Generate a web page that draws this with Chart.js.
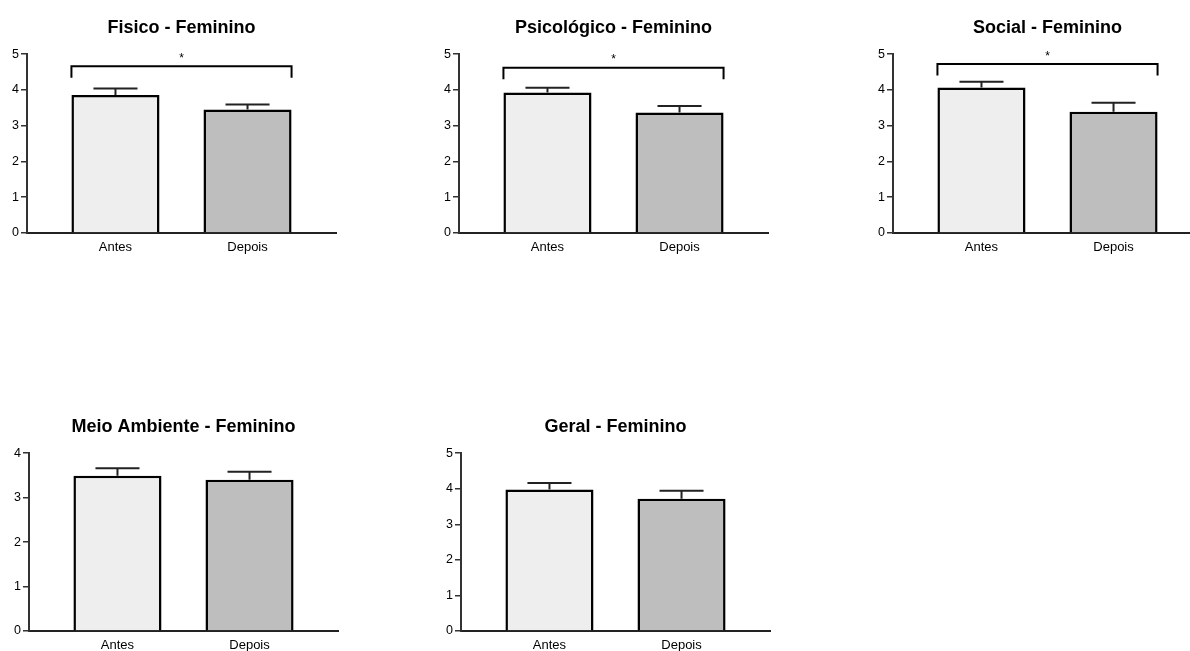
<!DOCTYPE html>
<html>
<head>
<meta charset="utf-8">
<script src="https://cdn.jsdelivr.net/npm/chart.js@4.4.1/dist/chart.umd.min.js"></script>
<style>
  html, body { margin: 0; padding: 0; background: #fff; overflow: hidden; }
  #wrap { position: relative; width: 1190px; height: 651px; }
  #wrap canvas { position: absolute; }
</style>
</head>
<body>
<div id="wrap"></div>
<script>
const groups = ["Antes", "Depois"];
const titles = [
  "Fisico - Feminino",
  "Psicológico - Feminino",
  "Social - Feminino",
  "Meio Ambiente - Feminino",
  "Geral - Feminino",
];
const antesMean = [3.86, 3.93, 4.07, 3.49, 3.98];
const depoisMean = [3.45, 3.37, 3.39, 3.40, 3.72];
const antesSem = [0.18, 0.13, 0.16, 0.17, 0.18];
const depoisSem = [0.14, 0.18, 0.25, 0.18, 0.22];
const yMax = [5, 5, 5, 4, 5];
// significance bracket (value level) and its label, null where no test is marked
const bracketLevel = [4.66, 4.62, 4.72, null, null];
const starLevel = [4.88, 4.84, 4.94, null, null];
const sigLabel = ["*", "*", "*", "", ""];

// where each small chart sits on the page
const panels = [
  { left: 0, top: 0, height: 259 },
  { left: 432, top: 0, height: 259 },
  { left: 866, top: 0, height: 259 },
  { left: 2, top: 399, height: 258 },
  { left: 434, top: 399, height: 258 },
];

const FONT = "'Liberation Sans', Arial, sans-serif";
const AXIS_COLOR = "#333";

const errorBars = {
  id: "errorBars",
  afterDatasetsDraw(chart, args, opts) {
    const ctx = chart.ctx;
    const y = chart.scales.y;
    const bars = chart.getDatasetMeta(0).data;
    ctx.save();
    ctx.strokeStyle = "#222";
    ctx.lineWidth = 2;
    bars.forEach((bar, i) => {
      const top = y.getPixelForValue(opts.means[i] + opts.sems[i]);
      const base = y.getPixelForValue(opts.means[i]);
      const half = bar.width / 4;
      ctx.beginPath();
      ctx.moveTo(bar.x, base);
      ctx.lineTo(bar.x, top);
      ctx.moveTo(bar.x - half, top);
      ctx.lineTo(bar.x + half, top);
      ctx.stroke();
    });
    if (opts.bracket != null) {
      const left = bars[0].x - bars[0].width / 2;
      const right = bars[1].x + bars[1].width / 2;
      const yTop = y.getPixelForValue(opts.bracket);
      const yEnd = y.getPixelForValue(opts.bracket - 0.32);
      ctx.strokeStyle = "#000";
      ctx.lineWidth = 2;
      ctx.beginPath();
      ctx.moveTo(left, yEnd);
      ctx.lineTo(left, yTop);
      ctx.lineTo(right, yTop);
      ctx.lineTo(right, yEnd);
      ctx.stroke();
      ctx.fillStyle = "#000";
      ctx.font = "12px " + FONT;
      ctx.textAlign = "center";
      ctx.textBaseline = "middle";
      ctx.fillText(opts.label, (left + right) / 2, y.getPixelForValue(opts.star));
    }
    ctx.restore();
  },
};

const wrap = document.getElementById("wrap");

titles.forEach((title, k) => {
  const p = panels[k];
  const canvas = document.createElement("canvas");
  canvas.width = 340;
  canvas.height = p.height;
  canvas.style.left = p.left + "px";
  canvas.style.top = p.top + "px";
  wrap.appendChild(canvas);

  const means = [antesMean[k], depoisMean[k]];
  const sems = [antesSem[k], depoisSem[k]];

  new Chart(canvas, {
    type: "bar",
    plugins: [errorBars],
    data: {
      datasets: [
        {
          data: means.map((m, i) => ({ x: i, y: m })),
          backgroundColor: ["#eeeeee", "#bebebe"],
          borderColor: "#000",
          borderWidth: 2.5,
          categoryPercentage: 1,
          barPercentage: 0.667,
        },
      ],
    },
    options: {
      responsive: false,
      animation: false,
      layout: { padding: { left: 0, right: 4, top: 0, bottom: 0 } },
      plugins: {
        legend: { display: false },
        tooltip: { enabled: false },
        title: {
          display: true,
          text: title,
          fullSize: false,
          color: "#000",
          font: { family: FONT, size: 18, weight: "bold" },
          padding: { top: 17, bottom: 15.5 },
        },
        errorBars: {
          means: means,
          sems: sems,
          bracket: bracketLevel[k],
          star: starLevel[k],
          label: sigLabel[k],
        },
      },
      scales: {
        x: {
          type: "linear",
          min: -0.67,
          max: 1.67,
          offset: false,
          afterBuildTicks: (scale) => {
            scale.ticks = groups.map((_, i) => ({ value: i }));
          },
          afterFit: (scale) => {
            scale.height = 26;
          },
          grid: { display: false, drawTicks: false, offset: false },
          border: { display: true, color: "#222", width: 2 },
          ticks: {
            autoSkip: false,
            padding: 7,
            color: "#000",
            font: { family: FONT, size: 13 },
            callback: (v) => groups[v],
          },
        },
        y: {
          min: 0,
          max: yMax[k],
          afterFit: (scale) => {
            scale.width = 27;
          },
          grid: {
            drawOnChartArea: false,
            drawTicks: true,
            tickLength: 6,
            tickColor: AXIS_COLOR,
            lineWidth: 1.5,
          },
          border: { display: true, color: AXIS_COLOR, width: 2 },
          ticks: {
            stepSize: 1,
            padding: 2,
            color: "#000",
            font: { family: FONT, size: 12.5 },
          },
        },
      },
    },
  });
});
</script>
</body>
</html>
